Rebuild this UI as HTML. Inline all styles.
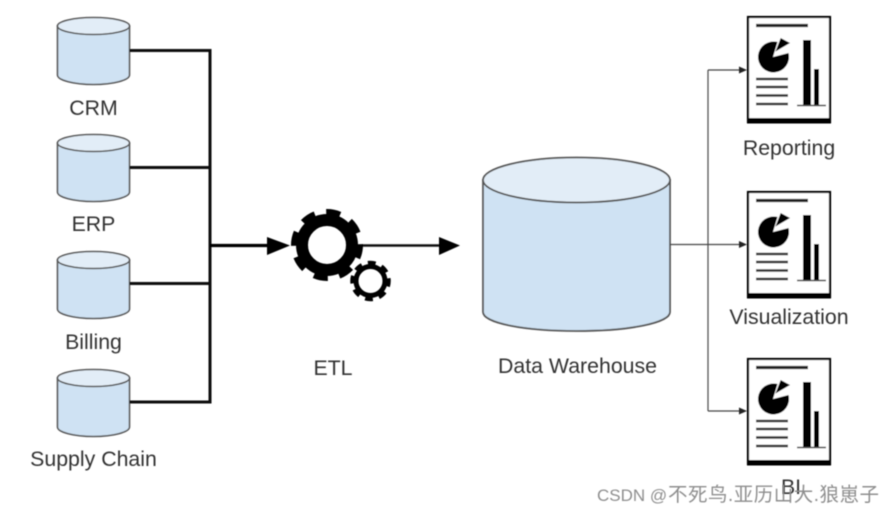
<!DOCTYPE html>
<html><head><meta charset="utf-8"><style>
html,body{margin:0;padding:0;background:#fff;width:894px;height:513px;overflow:hidden}
svg{display:block}
text{font-family:"Liberation Sans","Noto Sans CJK SC",sans-serif}
</style></head><body>
<svg width="894" height="513" viewBox="0 0 894 513" xmlns="http://www.w3.org/2000/svg">
<defs>
<filter id="b" x="-5%" y="-5%" width="110%" height="110%"><feGaussianBlur stdDeviation="0.55"/></filter>
<filter id="t" x="-5%" y="-5%" width="110%" height="110%"><feGaussianBlur stdDeviation="0.4"/></filter>
<g id="cyl">
<path d="M57.5 9V58C57.5 63 73 67.5 93.5 67.5S129.5 63 129.5 58V9Z" fill="#cfe2f3" stroke="#555" stroke-width="1.6"/>
<ellipse cx="93.5" cy="9" rx="36" ry="8.5" fill="#e2edf7" stroke="#555" stroke-width="1.6"/>
</g>
<g id="doc">
<rect x="748" y="1" width="82" height="105" fill="#fff" stroke="#000" stroke-width="2.2"/>
<rect x="747" y="102" width="84" height="5.500" fill="#000"/>
<path d="M756 9.5H808" stroke="#222" stroke-width="3.2"/>
<path d="M777.500 26L773 41L788.500 37A15.500 15.500 0 1 1 777.500 26Z" fill="#000"/>
<path d="M775.500 35.500L780.700 22L790 27Z" fill="#000"/>
<path d="M756 63H788M756 71H788M756 79.5H788M756 88H788" stroke="#333" stroke-width="2.6"/>
<path d="M803 24h8v65h-8zM814 53h5v36h-5z" fill="#000"/>
<path d="M797 89.5H826" stroke="#444" stroke-width="1.4"/>
</g>
</defs>
<g filter="url(#b)">
<use href="#cyl" y="17"/>
<use href="#cyl" y="134"/>
<use href="#cyl" y="251"/>
<use href="#cyl" y="369"/>
<path d="M129.500 50.500H210M129.500 167.500H210M129.500 283.500H210M129.500 402H210" fill="none" stroke="#0a0a0a" stroke-width="3"/>
<path d="M210 49V403.500" fill="none" stroke="#0a0a0a" stroke-width="3"/>
<path d="M210 245.500H268" stroke="#000" stroke-width="3.200"/>
<path d="M267 237V255L290 245.500Z" fill="#000"/>
<path d="M362 245.500H440" stroke="#111" stroke-width="2.600"/>
<path d="M439 237V255L460 245.500Z" fill="#000"/>
<g fill="none" stroke="#000">
<circle cx="327" cy="245" r="25" stroke-width="12"/>
<circle cx="327" cy="245" r="33" stroke-width="6" pathLength="80" stroke-dasharray="5.500 4.500" transform="rotate(-1.400 327 245)"/>
<circle cx="370.500" cy="281" r="14.500" stroke-width="5"/>
<circle cx="370.500" cy="281" r="18" stroke-width="4.500" pathLength="80" stroke-dasharray="5.500 4.500" transform="rotate(-7 370.500 281)"/>
</g>
<path d="M483 180V312C483 323 524 331 576.500 331S670 323 670 312V180Z" fill="#cfe2f3" stroke="#555" stroke-width="1.800"/>
<ellipse cx="576.500" cy="180" rx="93.500" ry="22.500" fill="#e2edf7" stroke="#555" stroke-width="1.800"/>
<path d="M708 70V411" fill="none" stroke="#555" stroke-width="1.300"/>
<path d="M670 244.500H740M708 70H740M708 411H740" fill="none" stroke="#444" stroke-width="1.300"/>
<path d="M739 66.500V73.500L747 70ZM739 241V248L747 244.500ZM739 407.500V414.500L747 411Z" fill="#222"/>
<use href="#doc" y="16"/>
<use href="#doc" y="191"/>
<use href="#doc" y="358"/>
</g>
<g fill="#333" font-size="21.300" text-anchor="middle" filter="url(#t)">
<text x="93.500" y="115">CRM</text>
<text x="93.500" y="231">ERP</text>
<text x="93.500" y="349">Billing</text>
<text x="93.500" y="466">Supply Chain</text>
<text x="333" y="375">ETL</text>
<text x="577.500" y="373">Data Warehouse</text>
<text x="789" y="155">Reporting</text>
<text x="789" y="324">Visualization</text>
<text x="791" y="494">BI</text>
</g>
<g fill="#8e8e8e" filter="url(#t)">
<text x="597" y="501" font-size="17">CSDN @</text>
<text x="668" y="501" font-size="19.500" textLength="211" lengthAdjust="spacing">不死鸟.亚历山大.狼崽子</text>
</g>
</svg>
</body></html>
